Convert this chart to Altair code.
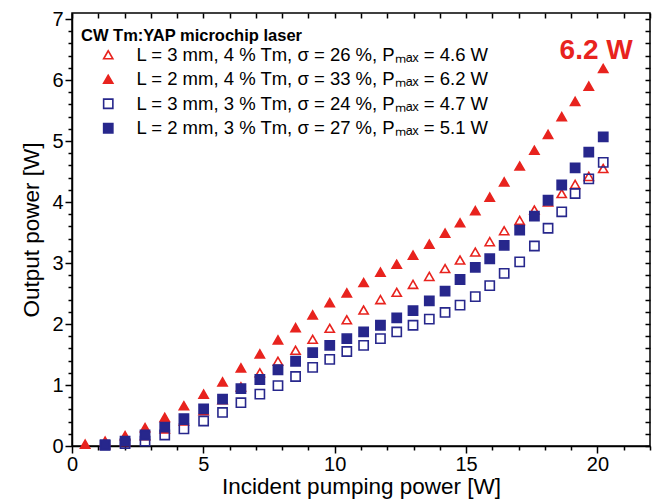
import altair as alt
import pandas as pd

FONT = "Liberation Sans, Arial, Helvetica, sans-serif"
RED = "#e8231e"
BLUE = "#27278c"

LEGEND_TITLE = "CW Tm:YAP microchip laser"
SERIES = [
    "L = 3 mm, 4 % Tm, σ = 26 %, Pₘₐₓ = 4.6 W",
    "L = 2 mm, 4 % Tm, σ = 33 %, Pₘₐₓ = 6.2 W",
    "L = 3 mm, 3 % Tm, σ = 24 %, Pₘₐₓ = 4.7 W",
    "L = 2 mm, 3 % Tm, σ = 27 %, Pₘₐₓ = 5.1 W",
]
STROKES = [RED, RED, BLUE, BLUE]
FILLS = ["transparent", RED, "transparent", BLUE]
SHAPES = ["triangle-up", "triangle-up", "square", "square"]
SIZES = [85, 85, 48, 48]

# incident pump power [W]
PUMP = [0.50, 1.26, 2.02, 2.78, 3.53, 4.26, 5.01, 5.73, 6.43, 7.15, 7.84,
        8.51, 9.16, 9.81, 10.46, 11.10, 11.74, 12.36, 12.98, 13.60, 14.20,
        14.77, 15.35, 15.90, 16.45, 17.04, 17.60, 18.12, 18.64, 19.15,
        19.67, 20.22]
PUMP_LATE = [1.26, 2.02, 2.78, 3.53, 4.26, 5.01, 5.73, 6.43, 7.15, 7.84,
             8.51, 9.16, 9.81, 10.46, 11.10, 11.74, 12.36, 12.98, 13.60, 14.20,
             14.77, 15.35, 15.90, 16.45, 17.04, 17.60, 18.12, 18.64, 19.15,
             19.67, 20.22]

# output power [W]
OUT_3MM_4TM = [0.02, 0.07, 0.17, 0.28, 0.41, 0.58, 0.76, 0.97, 1.20, 1.39,
               1.57, 1.75, 1.93, 2.07, 2.23, 2.40, 2.52, 2.65, 2.78, 2.91,
               3.05, 3.18, 3.35, 3.53, 3.70, 3.87, 4.00, 4.14, 4.29, 4.42, 4.55]
OUT_2MM_4TM = [0.03, 0.08, 0.17, 0.30, 0.47, 0.66, 0.85, 1.05, 1.28, 1.51,
               1.74, 1.94, 2.15, 2.35, 2.51, 2.68, 2.85, 2.98, 3.13, 3.31,
               3.49, 3.66, 3.86, 4.08, 4.33, 4.59, 4.85, 5.11, 5.40, 5.65,
               5.90, 6.19]
OUT_3MM_3TM = [0.01, 0.04, 0.08, 0.18, 0.28, 0.41, 0.55, 0.71, 0.85, 0.99,
               1.14, 1.29, 1.42, 1.55, 1.65, 1.76, 1.87, 1.98, 2.08, 2.19,
               2.31, 2.45, 2.63, 2.83, 3.02, 3.28, 3.57, 3.84, 4.14, 4.38, 4.65]
OUT_2MM_3TM = [0.02, 0.08, 0.18, 0.31, 0.45, 0.61, 0.77, 0.94, 1.09, 1.25,
               1.39, 1.53, 1.65, 1.76, 1.87, 1.98, 2.10, 2.22, 2.38, 2.54,
               2.73, 2.93, 3.07, 3.29, 3.54, 3.77, 4.03, 4.28, 4.56, 4.82, 5.07]

X_TICKS = [0, 1, 2, 3, 4, 5, 6, 7, 8, 9, 10, 11, 12, 13, 14, 15, 16, 17, 18,
           19, 20, 21, 22]
Y_TICKS = [0, 0.2, 0.4, 0.6, 0.8, 1, 1.2, 1.4, 1.6, 1.8, 2, 2.2, 2.4, 2.6,
           2.8, 3, 3.2, 3.4, 3.6, 3.8, 4, 4.2, 4.4, 4.6, 4.8, 5, 5.2, 5.4,
           5.6, 5.8, 6, 6.2, 6.4, 6.6, 6.8, 7]
X_DOMAIN = [0, 22]
Y_DOMAIN = [0, 7.1]

ANNOT_TEXT = ["6.2 W"]
ANNOT_X = [19.95]
ANNOT_Y = [6.47]

rows = []
for name, xs, ys in [
    (SERIES[0], PUMP_LATE, OUT_3MM_4TM),
    (SERIES[1], PUMP, OUT_2MM_4TM),
    (SERIES[2], PUMP_LATE, OUT_3MM_3TM),
    (SERIES[3], PUMP_LATE, OUT_2MM_3TM),
]:
    for xv, yv in zip(xs, ys):
        rows.append({"series": name, "pump": xv, "out": yv})
df = pd.DataFrame(rows)
ann = pd.DataFrame({"label": ANNOT_TEXT, "x": ANNOT_X, "y": ANNOT_Y})

major_x = "datum.value % 5 === 0"
major_y = "abs(datum.value - round(datum.value)) < 0.001"

points = alt.Chart(df).mark_point(strokeWidth=1.6, opacity=1).encode(
    x=alt.X("pump:Q", scale=alt.Scale(domain=X_DOMAIN, nice=False, zero=False),
            axis=alt.Axis(values=X_TICKS, title="Incident pumping power [W]",
                          labelExpr=f"{major_x} ? format(datum.value, 'd') : ''",
                          tickSize={"condition": {"test": major_x, "value": 7}, "value": 4},
                          grid=False, labelFlush=False, labelPadding=1,
                          titlePadding=1)),
    y=alt.Y("out:Q", scale=alt.Scale(domain=Y_DOMAIN, nice=False, zero=False),
            axis=alt.Axis(values=Y_TICKS, title="Output power [W]",
                          labelExpr=f"{major_y} ? format(datum.value, 'd') : ''",
                          tickSize={"condition": {"test": major_y, "value": 7}, "value": 4},
                          grid=False, labelFlush=False, labelPadding=2,
                          titlePadding=8)),
    color=alt.Color("series:N", scale=alt.Scale(domain=SERIES, range=STROKES),
                    legend=alt.Legend(title=LEGEND_TITLE, orient="none",
                                      legendX=9, legendY=15,
                                      titleFont=FONT, titleFontSize=16.5,
                                      titleFontWeight="bold", titleColor="black",
                                      titleLimit=600,
                                      labelFont=FONT, labelFontSize=18.5,
                                      labelColor="black", labelLimit=600,
                                      symbolOffset=18, labelOffset=19,
                                      rowPadding=5.5, symbolStrokeWidth=1.6,
                                      padding=0, titlePadding=1)),
    fill=alt.Fill("series:N", scale=alt.Scale(domain=SERIES, range=FILLS)),
    shape=alt.Shape("series:N", scale=alt.Scale(domain=SERIES, range=SHAPES)),
    size=alt.Size("series:N", scale=alt.Scale(domain=SERIES, range=SIZES)),
    order=alt.Order("idx:Q"),
).transform_window(idx="row_number()")

annot = alt.Chart(ann).mark_text(fontSize=28, fontWeight="bold", color=RED,
                                 font=FONT).encode(
    x=alt.X("x:Q", scale=alt.Scale(domain=X_DOMAIN, nice=False, zero=False),
            axis=alt.Axis(orient="top", values=X_TICKS, labels=False,
                          tickSize=5, offset=-5, domain=False, grid=False,
                          title=None)),
    y=alt.Y("y:Q", scale=alt.Scale(domain=Y_DOMAIN, nice=False, zero=False),
            axis=alt.Axis(orient="right", values=Y_TICKS, labels=False,
                          tickSize=5, offset=-5, domain=False, grid=False,
                          title=None)),
    text="label:N",
)

chart = alt.layer(points, annot).resolve_scale(
    x="independent", y="independent"
).properties(
    width=578, height=433,
    autosize=alt.AutoSizeParams(type="none"),
    padding={"left": 64, "top": 5, "right": 4, "bottom": 56},
    background="white",
).configure_view(
    stroke="black", strokeWidth=1.5
).configure_axis(
    labelFont=FONT, titleFont=FONT, labelFontSize=20, titleFontSize=22.5,
    titleFontWeight="normal", labelColor="black", titleColor="black",
    domainColor="black", domainWidth=1.5, tickColor="black", tickWidth=1.5,
)

chart.save("out.html", embed_options={"renderer": "svg", "actions": False})
